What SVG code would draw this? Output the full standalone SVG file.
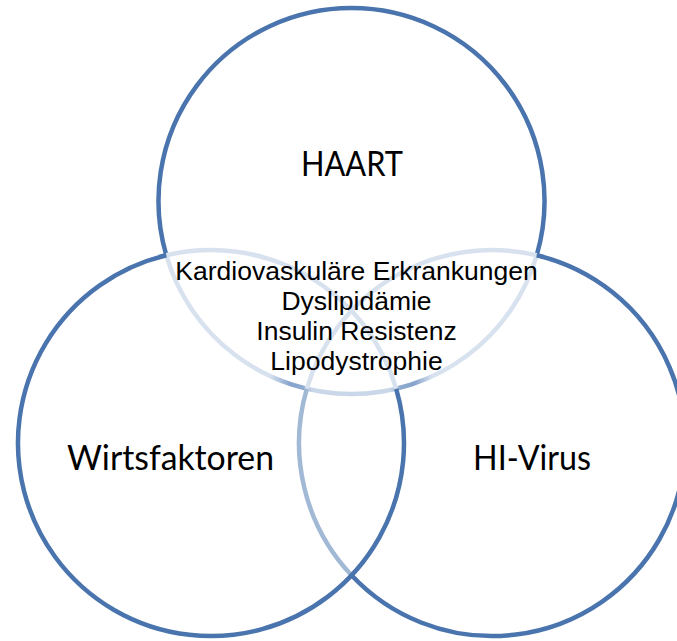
<svg xmlns="http://www.w3.org/2000/svg" width="677" height="641" viewBox="0 0 677 641">
  <defs>
    <style>
      .ring { fill: none; stroke-width: 4.5; stroke-linecap: butt; }
      .dark { stroke: #4a74ad; }
      .light { stroke: #d8e2ef; }
      .medium { stroke: #a2b9d6; }
      .label { font-family: Lato, "Open Sans", "Liberation Sans", sans-serif; font-size: 34px; fill: #000000; text-anchor: middle; }
      .center { font-family: "Liberation Sans", Arial, sans-serif; font-size: 26.5px; fill: #000000; text-anchor: middle; }
    </style>
    <linearGradient id="tLow" gradientUnits="userSpaceOnUse" x1="166" y1="0" x2="537" y2="0">
      <stop offset="0" stop-color="#d8e2ef"/>
      <stop offset="0.28" stop-color="#d8e2ef"/>
      <stop offset="0.334" stop-color="#86a4cc"/>
      <stop offset="0.369" stop-color="#8eaad0"/>
      <stop offset="0.394" stop-color="#cad7e8"/>
      <stop offset="0.604" stop-color="#cad7e8"/>
      <stop offset="0.631" stop-color="#8eaad0"/>
      <stop offset="0.671" stop-color="#86a4cc"/>
      <stop offset="0.717" stop-color="#d8e2ef"/>
      <stop offset="1" stop-color="#d8e2ef"/>
    </linearGradient>
  </defs>
  <rect x="0" y="0" width="677" height="641" fill="#ffffff"/>

  <g id="connectors"></g>

  <g id="node-haart">
    <path class="ring" stroke="url(#tLow)" d="M 166.3 255.3 A 193 193 0 0 0 536.7 255.3"/>
    <path class="ring dark" d="M 536.7 255.3 A 193 193 0 1 0 166.3 255.3"/>
    <text class="label" x="352" y="176" textLength="102" lengthAdjust="spacingAndGlyphs">HAART</text>
  </g>

  <g id="node-hi-virus">
    <path class="ring light" d="M 536.7 255.3 A 193 193 0 0 0 306.8 388.8"/>
    <path class="ring medium" d="M 306.8 388.8 A 193 193 0 0 0 351.5 575.3"/>
    <path class="ring dark" d="M 351.5 575.3 A 193 193 0 1 0 536.7 255.3"/>
    <text class="label" x="532" y="470" textLength="118" lengthAdjust="spacingAndGlyphs">HI-Virus</text>
  </g>

  <g id="node-wirtsfaktoren">
    <path class="ring light" d="M 166.3 255.3 A 193 193 0 0 1 396.2 388.8"/>
    <path class="ring dark" d="M 396.2 388.8 A 193 193 0 1 1 166.3 255.3"/>
    <text class="label" x="170.5" y="470" textLength="207" lengthAdjust="spacingAndGlyphs">Wirtsfaktoren</text>
  </g>

  <g id="node-center">
    <text class="center" x="356.5" y="280">Kardiovaskuläre Erkrankungen</text>
    <text class="center" x="356.5" y="310">Dyslipidämie</text>
    <text class="center" x="356.5" y="340">Insulin Resistenz</text>
    <text class="center" x="356.5" y="370">Lipodystrophie</text>
  </g>
</svg>
